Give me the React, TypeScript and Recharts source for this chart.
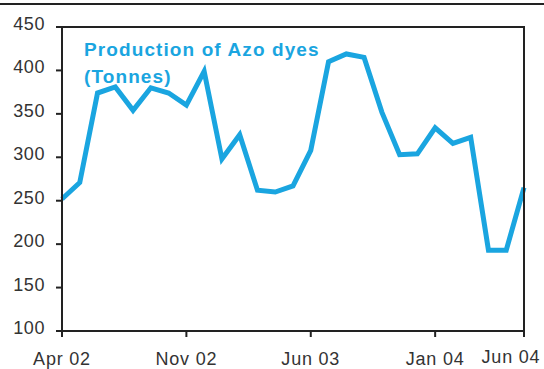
import { LineChart, Line, XAxis, YAxis } from 'recharts';

const months = [
  'Apr 02', 'May 02', 'Jun 02', 'Jul 02', 'Aug 02', 'Sep 02', 'Oct 02', 'Nov 02', 'Dec 02',
  'Jan 03', 'Feb 03', 'Mar 03', 'Apr 03', 'May 03', 'Jun 03', 'Jul 03', 'Aug 03', 'Sep 03',
  'Oct 03', 'Nov 03', 'Dec 03', 'Jan 04', 'Feb 04', 'Mar 04', 'Apr 04', 'May 04', 'Jun 04',
];

const production = [
  252, 271, 374, 381, 354, 380, 374, 360, 399,
  298, 326, 262, 260, 267, 308, 410, 419, 415,
  352, 303, 304, 334, 316, 323, 193, 193, 265,
];

const xTicks = ['Apr 02', 'Nov 02', 'Jun 03', 'Jan 04', 'Jun 04'];
const yTicks = [100, 150, 200, 250, 300, 350, 400, 450];

const data = months.map((month, i) => ({ month, value: production[i] }));

const LINE = '#1aa5e0';
const AXIS = '#222';
const TEXT = '#333';
const FONT = '"Liberation Sans", Arial, sans-serif';

function XTick(props: any) {
  const { x, y, payload } = props;
  const last = payload.value === 'Jun 04';
  return (
    <text
      x={x + (last ? -13 : 0)}
      y={y + (last ? 24 : 26)}
      textAnchor="middle"
      fill={TEXT}
      fontSize={18}
      fontFamily={FONT}
      letterSpacing={0.8}
    >
      {payload.value}
    </text>
  );
}

function YTick(props: any) {
  const { x, y, payload } = props;
  return (
    <text x={x} y={y + 3} textAnchor="end" fill={TEXT} fontSize={18} fontFamily={FONT} letterSpacing={0.6}>
      {payload.value}
    </text>
  );
}

export default function App() {
  return (
    <div style={{ position: 'absolute', left: 0, top: 0, width: 544, height: 369, background: '#fff' }}>
      <div style={{ position: 'absolute', left: 0, top: 3, width: 544, height: 2, background: AXIS }} />
      <LineChart width={544} height={369} data={data} margin={{ top: 27, right: 20, bottom: 8, left: 0 }}>
        <XAxis
          dataKey="month"
          ticks={xTicks}
          interval={0}
          height={30}
          tick={<XTick />}
          tickSize={6}
          tickMargin={2}
          axisLine={{ stroke: AXIS, strokeWidth: 2 }}
          tickLine={{ stroke: AXIS, strokeWidth: 2 }}
        />
        <YAxis
          domain={[100, 450]}
          ticks={yTicks}
          width={62}
          tick={<YTick />}
          tickSize={6}
          tickMargin={11}
          axisLine={{ stroke: AXIS, strokeWidth: 2 }}
          tickLine={{ stroke: AXIS, strokeWidth: 2 }}
        />
        <Line
          type="linear"
          dataKey="value"
          stroke={LINE}
          strokeWidth={5}
          dot={false}
          activeDot={false}
          isAnimationActive={false}
        />
      </LineChart>
      {/* top and right edges of the plot frame */}
      <div
        style={{
          position: 'absolute',
          left: 62,
          top: 26,
          width: 463,
          height: 305,
          boxSizing: 'border-box',
          borderTop: `2px solid ${AXIS}`,
          borderRight: `2px solid ${AXIS}`,
          pointerEvents: 'none',
        }}
      />
      <div
        style={{
          position: 'absolute',
          left: 84,
          top: 36,
          color: LINE,
          fontFamily: FONT,
          fontWeight: 'bold',
          fontSize: 19,
          letterSpacing: 1.1,
          lineHeight: '27px',
        }}
      >
        Production of Azo dyes
        <br />
        (Tonnes)
      </div>
    </div>
  );
}
